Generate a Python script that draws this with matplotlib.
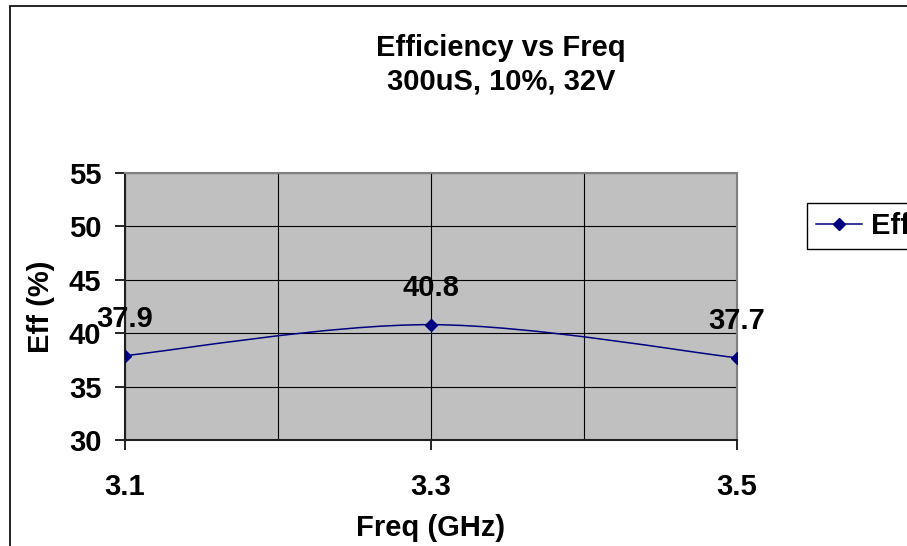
import matplotlib
matplotlib.use("Agg")
import matplotlib.pyplot as plt
import numpy as np
from matplotlib.path import Path
from matplotlib.patches import PathPatch, Rectangle
from matplotlib.lines import Line2D

# data
freq = [3.1, 3.3, 3.5]
eff = [37.9, 40.8, 37.7]
labels = ["37.9", "40.8", "37.7"]

plt.rcParams['font.family'] = ['Liberation Sans', 'DejaVu Sans']
plt.rcParams['font.weight'] = 'bold'
FS = 21

fig = plt.figure(figsize=(9.07, 5.46), dpi=100)
ax = fig.add_axes([125/907, 1 - 440/546, 612/907, 267/546])
ax.set_facecolor('#C0C0C0')

# outer chart frame (cut by image edge)
fig.patches.append(Rectangle((10/907, -0.1), 1.2, 1.1 - 6/546, transform=fig.transFigure,
                             fill=False, edgecolor='black', linewidth=1.2, zorder=0))

# smoothed line like excel: bezier with catmull-rom control points
x = np.array(freq)
y = np.array(eff)
verts = [(x[0], y[0])]
codes = [Path.MOVETO]
n = len(x)
for i in range(n - 1):
    p_prev = np.array([x[max(i - 1, 0)], y[max(i - 1, 0)]])
    p0 = np.array([x[i], y[i]])
    p1 = np.array([x[i + 1], y[i + 1]])
    p_next = np.array([x[min(i + 2, n - 1)], y[min(i + 2, n - 1)]])
    c1 = p0 + (p1 - p_prev) / 6
    c2 = p1 - (p_next - p0) / 6
    verts += [tuple(c1), tuple(c2), tuple(p1)]
    codes += [Path.CURVE4] * 3
ax.add_patch(PathPatch(Path(verts, codes), facecolor='none', edgecolor='#000080',
                       linewidth=1.1, zorder=3))
ax.plot(freq, eff, linestyle='none', marker='D', markersize=6, color='#000080', zorder=4)

for xi, yi, t in zip(freq, eff, labels):
    ax.annotate(t, (xi, yi), xytext=(0, 37), textcoords='offset pixels',
                ha='center', va='center', fontsize=FS, fontweight='bold', zorder=5,
                annotation_clip=False)

ax.set_xlim(3.1, 3.5)
ax.set_ylim(30, 55)
ax.set_xticks([3.1, 3.3, 3.5])
ax.set_xticklabels(["3.1", "3.3", "3.5"])
ax.set_xticks([3.2, 3.4], minor=True)
ax.set_yticks([30, 35, 40, 45, 50, 55])
ax.grid(True, which='both', axis='x', color='black', linewidth=0.8)
ax.grid(True, which='major', axis='y', color='black', linewidth=0.8)
ax.set_axisbelow(True)
ax.tick_params(axis='x', which='minor', length=0)
ax.tick_params(axis='both', which='major', length=7, width=1.2, labelsize=FS, color='black')
ax.tick_params(axis='x', which='major', pad=17)
ax.tick_params(axis='y', which='major', pad=10)
for s in ['top', 'right']:
    ax.spines[s].set_color('#808080')
    ax.spines[s].set_linewidth(1.5)
for s in ['left', 'bottom']:
    ax.spines[s].set_color('#202020')
    ax.spines[s].set_linewidth(1.5)

ax.set_xlabel("Freq (GHz)", fontsize=FS, fontweight='bold', labelpad=9)
ax.set_ylabel("Eff (%)", fontsize=FS, fontweight='bold', labelpad=10)

fig.text(501/907, 1 - 48/546, "Efficiency vs Freq", ha='center', va='center',
         fontsize=FS, fontweight='bold')
fig.text(501/907, 1 - 82/546, "300uS, 10%, 32V", ha='center', va='center',
         fontsize=FS, fontweight='bold')

handle = Line2D([], [], color='#000080', marker='D', markersize=6, linewidth=1.1)
leg = fig.legend([handle], ["Eff"], loc='upper left', bbox_to_anchor=(807/907, 1 - 203/546),
                 frameon=True, fancybox=False, framealpha=1, edgecolor='black',
                 prop={'size': FS, 'weight': 'bold'}, handlelength=1.6, borderpad=0.3,
                 handletextpad=0.3, borderaxespad=0)
leg.get_frame().set_linewidth(1.0)

fig.savefig("out.png", dpi=100)
